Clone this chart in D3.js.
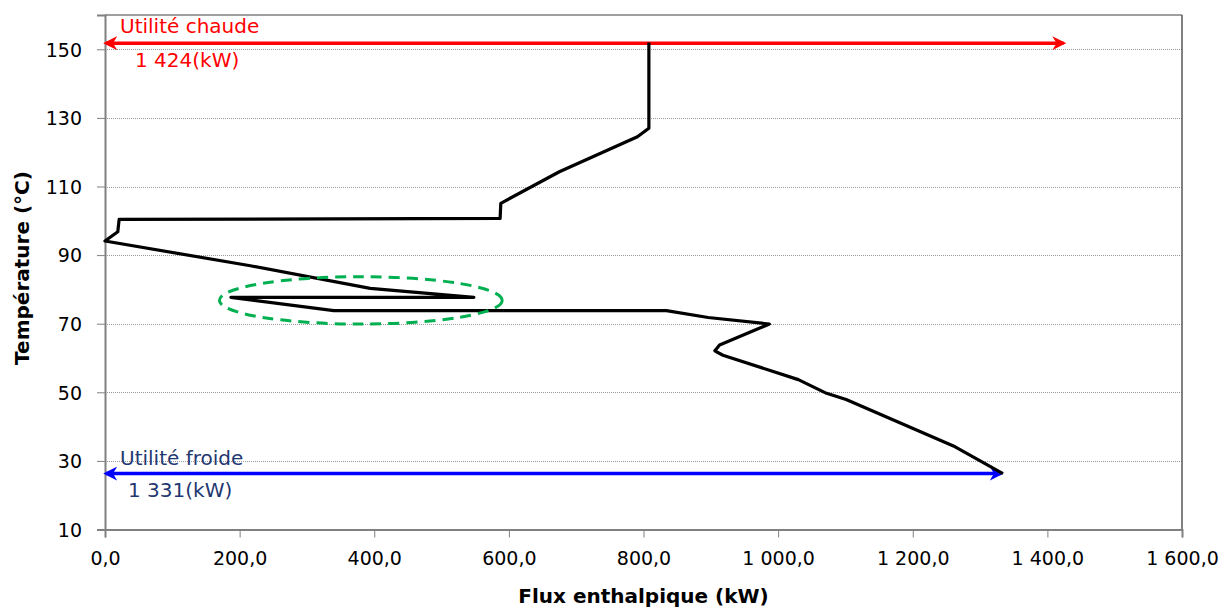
<!DOCTYPE html>
<html>
<head>
<meta charset="utf-8">
<script src="https://cdn.jsdelivr.net/npm/d3@7/dist/d3.min.js"></script>
<style>
  html, body { margin: 0; padding: 0; background: #ffffff; }
  svg { display: block; font-family: "DejaVu Sans", sans-serif; }
</style>
</head>
<body>
<svg id="chart" width="1226" height="607"></svg>
<script>
// ---- data ----
const fluxValues = [808, 808, 791, 675, 588, 587, 21, 19, 0, 216, 394, 548, 187, 340, 834, 896, 987, 913, 906, 918, 1030, 1072, 1101, 1263, 1334];
const tempValues = [152, 127.0, 124.5, 114.3, 105.1, 100.7, 100.4, 96.8, 94.1, 86.9, 80.3, 77.7, 77.7, 73.8, 73.8, 71.8, 69.9, 63.8, 62.1, 60.8, 53.7, 49.7, 47.9, 34.1, 26.3];
const xTickValues = [0, 200, 400, 600, 800, 1000, 1200, 1400, 1600];
const yTickValues = [10, 30, 50, 70, 90, 110, 130, 150];
const utilityNames = ["Utilité chaude", "Utilité froide"];
const utilityFlux = [1424, 1331];
const utilityTemp = [151.8, 26.3];
const utilityLabels = ["1 424(kW)", "1 331(kW)"];
const zoneCenter = [380, 76.8];
const zoneRadius = [210, 6.9];

// ---- layout ----
const margin = { left: 105, right: 1226 - 1182, top: 15, bottom: 607 - 529.5 };
const W = 1226, H = 607;
const svg = d3.select("#chart");

const x = d3.scaleLinear().domain([0, 1600]).range([margin.left, W - margin.right]);
const y = d3.scaleLinear().domain([10, 160]).range([H - margin.bottom, margin.top]);

const loc = d3.formatLocale({ decimal: ",", thousands: " ", grouping: [3], currency: ["", " €"] });
const fmtX = loc.format(",.1f");

// grid
svg.append("g").selectAll("line").data(yTickValues.filter(d => d > 10)).join("line")
  .attr("x1", x(0)).attr("x2", x(1600))
  .attr("y1", d => Math.round(y(d)) + 0.5).attr("y2", d => Math.round(y(d)) + 0.5)
  .attr("stroke", "#9a9a9a").attr("stroke-width", 1).attr("stroke-dasharray", "1,1");

// frame top & right
svg.append("line").attr("x1", x(0)).attr("x2", x(1600)).attr("y1", y(160)).attr("y2", y(160))
  .attr("stroke", "#7f7f7f").attr("stroke-width", 1.5);
svg.append("line").attr("x1", x(1600)).attr("x2", x(1600)).attr("y1", y(160)).attr("y2", y(10))
  .attr("stroke", "#595959").attr("stroke-width", 1.5);

// axes
const xAxis = svg.append("g").attr("transform", `translate(0,${y(10)})`)
  .call(d3.axisBottom(x).tickValues(xTickValues).tickFormat(fmtX).tickSize(8).tickPadding(14));
const yAxis = svg.append("g").attr("transform", `translate(${x(0)},0)`)
  .call(d3.axisLeft(y).tickValues(yTickValues).tickFormat(d3.format("d")).tickSize(8).tickPadding(15));
[xAxis, yAxis].forEach(a => {
  a.select(".domain").attr("stroke", "#808080").attr("stroke-width", 2);
  a.selectAll(".tick line").attr("stroke", "#808080").attr("stroke-width", 1);
  a.selectAll(".tick text").attr("fill", "#000").style("font-size", "19px")
    .style("font-family", "'DejaVu Sans', sans-serif");
});
yAxis.selectAll(".tick text").attr("dy", "0.36em");

// axis titles
svg.append("text").attr("x", (x(0) + x(1600)) / 2).attr("y", 603)
  .attr("text-anchor", "middle").style("font-weight", "bold").style("font-size", "20px")
  .text("Flux enthalpique (kW)");
svg.append("text").attr("transform", `translate(29,${268}) rotate(-90)`)
  .attr("text-anchor", "middle").style("font-weight", "bold").style("font-size", "20px")
  .text("Température (°C)");

// markers
const defs = svg.append("defs");
function marker(id, color) {
  defs.append("marker").attr("id", id).attr("viewBox", "0 0 10 10")
    .attr("refX", 8).attr("refY", 5).attr("markerWidth", 4).attr("markerHeight", 4)
    .attr("orient", "auto-start-reverse").attr("markerUnits", "strokeWidth")
    .append("path").attr("d", "M0,0 L10,5 L0,10 L3,5 Z").attr("fill", color);
}
marker("arrRed", "#ff0000");
marker("arrBlue", "#0000ff");

// utility arrows
const utilColors = ["#ff0000", "#0000ff"];
const utilMarkers = ["arrRed", "arrBlue"];
const textColors = ["#ff0000", "#1f3870"];
utilityFlux.forEach((v, i) => {
  svg.append("line")
    .attr("x1", x(0) + 1).attr("x2", x(v))
    .attr("y1", y(utilityTemp[i])).attr("y2", y(utilityTemp[i]))
    .attr("stroke", utilColors[i]).attr("stroke-width", 3.5)
    .attr("marker-start", `url(#${utilMarkers[i]})`)
    .attr("marker-end", `url(#${utilMarkers[i]})`);
});

// composite curve
const line = d3.line().x(d => x(d[0])).y(d => y(d[1]));
svg.append("path").datum(fluxValues.map((v, i) => [v, tempValues[i]]))
  .attr("d", line).attr("fill", "none").attr("stroke", "#000")
  .attr("stroke-width", 3.2).attr("stroke-linejoin", "round");

// green dashed zone
svg.append("ellipse")
  .attr("cx", x(zoneCenter[0])).attr("cy", y(zoneCenter[1]))
  .attr("rx", x(zoneCenter[0] + zoneRadius[0]) - x(zoneCenter[0]))
  .attr("ry", y(zoneCenter[1] - zoneRadius[1]) - y(zoneCenter[1]))
  .attr("fill", "none").attr("stroke", "#00b050").attr("stroke-width", 3)
  .attr("stroke-dasharray", "11,7");

// utility texts
const nameY = [33, 465];
const valY = [66.5, 497];
const nameX = [120, 120];
const valX = [135, 128];
utilityNames.forEach((n, i) => {
  svg.append("text").attr("x", nameX[i]).attr("y", nameY[i]).attr("fill", textColors[i])
    .style("font-size", "20px").text(n);
  svg.append("text").attr("x", valX[i]).attr("y", valY[i]).attr("fill", textColors[i])
    .style("font-size", "20px").text(utilityLabels[i]);
});
</script>
</body>
</html>
